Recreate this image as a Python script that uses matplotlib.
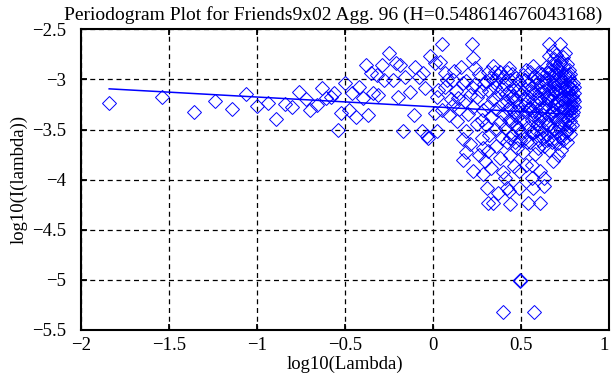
import numpy as np
import matplotlib
matplotlib.use("Agg")
import matplotlib.pyplot as plt

# Hurst estimate quoted in the title; the fitted line slope is 1 - 2H
H = 0.548614676043168
fit_intercept = -3.273
fit_x = [-1.84, 0.80]

# periodogram points (log10 lambda, log10 I(lambda))
sparse_x = [-1.84, -1.54, -1.36, -1.24, -1.14, -1.06, -1.00, -0.94, -0.89, -0.84,
            -0.80, -0.76, -0.72, -0.70, -0.66, -0.63, -0.61, -0.58, -0.56, -0.54,
            -0.52, -0.50, -0.48, -0.46, -0.44, -0.42, -0.40, -0.38, -0.37, -0.35,
            -0.34, -0.32, -0.31, -0.29, -0.28]
sparse_y = [-3.24, -3.18, -3.33, -3.22, -3.30, -3.15, -3.27, -3.24, -3.39, -3.25,
            -3.28, -3.13, -3.20, -3.31, -3.26, -3.09, -3.19, -3.18, -3.14, -3.50,
            -3.34, -3.04, -3.31, -3.14, -3.38, -3.08, -3.19, -2.86, -3.36, -2.94,
            -3.14, -2.96, -3.16, -2.86, -3.01]

mid_x = [-0.25, -0.23, -0.21, -0.20, -0.19, -0.17, -0.16, -0.13, -0.11, -0.10,
         -0.08, -0.06, -0.055, -0.045, -0.036, -0.026, -0.017, 0.01, 0.01, 0.02,
         0.02, 0.03, 0.04, 0.05, 0.05, 0.07, 0.07, 0.08, 0.09, 0.10,
         0.115, 0.115, 0.12, 0.13, 0.135, 0.14, 0.15, 0.16, 0.17, 0.17,
         0.17, 0.18, 0.19, 0.19, 0.19, 0.20, 0.21, 0.21, 0.22, 0.22,
         0.23, 0.23, 0.23, 0.24, 0.24, 0.25, 0.25, 0.26, 0.26, 0.27,
         0.277, 0.28, 0.286, 0.286, 0.286, 0.29, 0.295]
mid_y = [-2.74, -3.01, -2.84, -3.18, -2.86, -3.51, -2.98, -3.13, -3.36, -2.88,
         -2.98, -3.51, -2.94, -3.09, -3.56, -3.58, -2.77, -2.84, -3.34, -3.18,
         -3.51, -3.11, -2.83, -2.65, -3.31, -2.94, -3.08, -3.01, -3.36, -3.20,
         -3.01, -3.26, -2.92, -3.12, -3.41, -3.19, -3.30, -2.88, -3.04, -3.59,
         -3.80, -3.22, -3.51, -3.72, -3.02, -3.35, -3.16, -3.64, -2.65, -3.08,
         -2.79, -3.91, -3.28, -2.89, -3.05, -3.44, -3.18, -2.95, -3.75, -3.12,
         -3.58, -3.40, -3.31, -3.68, -3.94, -3.05, -3.81]

dense_x = [0.30, 0.30, 0.305, 0.31, 0.31, 0.31, 0.314, 0.32, 0.32, 0.33,
           0.33, 0.33, 0.34, 0.34, 0.34, 0.35, 0.35, 0.35, 0.36, 0.36,
           0.36, 0.37, 0.37, 0.37, 0.38, 0.38, 0.38, 0.39, 0.39, 0.39,
           0.40, 0.40, 0.40, 0.395, 0.41, 0.41, 0.41, 0.42, 0.42, 0.42,
           0.42, 0.43, 0.43, 0.43, 0.43, 0.44, 0.44, 0.44, 0.44, 0.45,
           0.45, 0.45, 0.46, 0.46, 0.46, 0.47, 0.47, 0.47, 0.48, 0.48,
           0.48, 0.49, 0.49, 0.49, 0.49, 0.494, 0.497, 0.50, 0.50, 0.51,
           0.51, 0.51, 0.52, 0.52, 0.52, 0.53, 0.53, 0.53, 0.54, 0.54,
           0.54, 0.54, 0.55, 0.55, 0.55, 0.56, 0.56, 0.56, 0.57, 0.57,
           0.57, 0.57, 0.575, 0.58, 0.58, 0.58, 0.59, 0.59, 0.59, 0.60,
           0.60, 0.60, 0.61, 0.61, 0.61, 0.61, 0.61, 0.62, 0.62, 0.62,
           0.63, 0.63, 0.63, 0.63, 0.64, 0.64, 0.64, 0.64, 0.65, 0.65,
           0.65, 0.66, 0.66, 0.66, 0.66, 0.66, 0.67, 0.67, 0.67, 0.68,
           0.68, 0.68, 0.68, 0.69, 0.69, 0.69, 0.69, 0.70, 0.70, 0.70,
           0.70, 0.71, 0.71, 0.71, 0.71, 0.72, 0.72, 0.72, 0.72, 0.72,
           0.73, 0.73, 0.73, 0.73, 0.73, 0.74, 0.74, 0.74, 0.74, 0.74,
           0.75, 0.75, 0.75, 0.75, 0.75, 0.76, 0.76, 0.76, 0.76, 0.76,
           0.77, 0.77, 0.77, 0.77, 0.77, 0.78, 0.78, 0.78, 0.78, 0.78,
           0.79, 0.79, 0.79, 0.79, 0.80, 0.80]
dense_y = [-3.02, -3.45, -4.08, -2.93, -3.27, -3.71, -4.23, -3.12, -3.55, -2.99,
           -3.38, -3.88, -3.20, -4.23, -2.87, -3.08, -3.49, -2.93, -3.30, -3.66,
           -3.01, -4.13, -3.15, -2.96, -3.42, -2.93, -3.78, -3.10, -3.25, -3.58,
           -2.98, -3.35, -3.92, -5.32, -3.05, -3.98, -3.48, -2.93, -3.22, -4.08,
           -3.62, -3.12, -4.11, -2.89, -3.40, -3.28, -4.24, -3.01, -3.75, -3.18,
           -3.55, -2.95, -3.33, -3.08, -3.86, -3.45, -2.99, -3.21, -3.68, -3.12,
           -3.38, -3.91, -4.08, -3.03, -3.27, -5.00, -5.01, -3.52, -3.15, -2.96,
           -3.41, -3.72, -3.10, -3.25, -3.58, -2.91, -3.33, -3.85, -4.23, -3.05,
           -3.47, -3.18, -2.93, -3.62, -3.29, -3.98, -3.08, -3.40, -4.08, -3.22,
           -2.87, -3.53, -5.32, -3.14, -3.74, -3.35, -2.99, -3.45, -3.26, -2.93,
           -3.60, -3.11, -4.23, -3.91, -3.37, -3.02, -3.20, -2.95, -3.48, -3.30,
           -4.06, -3.98, -3.13, -3.66, -2.88, -3.25, -3.42, -3.04, -3.55, -3.18,
           -2.99, -2.65, -2.77, -3.36, -3.70, -3.09, -3.22, -2.92, -3.47, -3.81,
           -3.15, -3.31, -2.85, -3.03, -3.58, -3.26, -2.96, -2.76, -3.40, -3.12,
           -3.52, -2.90, -3.21, -3.63, -3.05, -2.65, -3.33, -2.98, -3.46, -3.15,
           -2.82, -3.27, -3.08, -3.55, -2.93, -3.38, -3.18, -2.87, -3.02, -3.60,
           -2.74, -3.24, -3.43, -3.11, -2.95, -2.85, -3.30, -3.06, -3.50, -3.19,
           -2.99, -3.36, -3.13, -2.91, -3.26, -3.04, -3.41, -3.21, -2.95, -3.31,
           -3.10, -3.26, -3.17, -3.36, -3.14, -3.22]

extra_x = [0.555, 0.565, 0.575, 0.585, 0.595, 0.605, 0.615, 0.625, 0.635, 0.645,
           0.655, 0.665, 0.675, 0.685, 0.695, 0.705, 0.705, 0.715, 0.715, 0.725,
           0.725, 0.735, 0.735, 0.745, 0.745, 0.755, 0.755, 0.765, 0.765, 0.775,
           0.775, 0.785, 0.785, 0.795, 0.795, 0.795, 0.665, 0.675, 0.685, 0.695,
           0.655, 0.645, 0.635, 0.625, 0.615, 0.605, 0.595, 0.585, 0.575, 0.565,
           0.555, 0.545, 0.535, 0.525, 0.515, 0.505, 0.495, 0.485, 0.475, 0.465,
           0.455, 0.445, 0.435, 0.425, 0.415, 0.72, 0.74, 0.70, 0.68, 0.69,
           0.73, 0.71, 0.76, 0.78, 0.77, 0.79, 0.80, 0.80]
extra_y = [-3.12, -3.31, -2.98, -3.50, -3.19, -3.40, -3.07, -3.58, -3.28, -2.94,
           -3.45, -3.16, -3.62, -3.05, -3.36, -2.88, -3.24, -3.47, -3.12, -3.02,
           -3.57, -3.20, -3.40, -2.97, -3.29, -3.52, -3.08, -3.39, -2.96, -3.18,
           -3.46, -3.09, -3.28, -3.20, -3.04, -3.33, -2.90, -3.34, -3.49, -3.11,
           -3.20, -3.60, -3.03, -3.36, -3.53, -3.24, -3.68, -3.05, -3.37, -3.85,
           -3.52, -3.30, -3.62, -3.01, -3.20, -3.33, -3.60, -3.48, -3.32, -3.62,
           -3.17, -3.42, -3.58, -3.30, -3.15, -2.84, -2.78, -2.95, -2.72, -2.80,
           -3.70, -3.75, -3.62, -3.54, -3.08, -3.45, -3.28, -3.08]

xs = np.array(sparse_x + mid_x + dense_x + extra_x)
ys = np.array(sparse_y + mid_y + dense_y + extra_y)

slope = 1 - 2 * H
line_x = np.array(fit_x)
line_y = slope * line_x + fit_intercept

plt.rcParams["font.family"] = ["Liberation Serif", "DejaVu Serif"]

fig = plt.figure(figsize=(6.11, 3.85), dpi=100)
ax = fig.add_axes([0.1326, 0.1429, 0.8641, 0.781])

ax.plot(xs, ys, linestyle="none", marker="D", markersize=7.3,
        markerfacecolor="none", markeredgecolor="blue", markeredgewidth=0.7)
ax.plot(line_x, line_y, color="blue", linewidth=1.1)

ax.set_xlim(-2, 1)
ax.set_ylim(-5.5, -2.5)
ax.set_xticks([-2, -1.5, -1, -0.5, 0, 0.5, 1])
ax.set_yticks([-5.5, -5, -4.5, -4, -3.5, -3, -2.5])
ax.set_xticklabels(["\u22122", "\u22121.5", "\u22121", "\u22120.5", "0", "0.5", "1"])
ax.set_yticklabels(["\u22125.5", "\u22125", "\u22124.5", "\u22124", "\u22123.5", "\u22123", "\u22122.5"])
# keep the last x label inside the figure edge
ax.get_xticklabels()[-1].set_horizontalalignment("right")

ax.grid(True, color="black", linestyle=(0, (4, 3)), linewidth=0.9)
ax.tick_params(direction="in", top=True, right=True, length=4, width=1.3,
               labelsize=13.5)
ax.tick_params(axis="y", pad=11)
ax.tick_params(axis="x", pad=5)
for s in ax.spines.values():
    s.set_linewidth(1.5)

ax.set_title("Periodogram Plot for Friends9x02 Agg. 96 (H=0.548614676043168)",
             fontsize=14, pad=7, x=0.477)
ax.set_xlabel("log10(Lambda)", fontsize=13.5, labelpad=1)
ax.set_ylabel("log10(I(lambda))", fontsize=13.5, labelpad=3)

fig.savefig("out.png", dpi=100)
